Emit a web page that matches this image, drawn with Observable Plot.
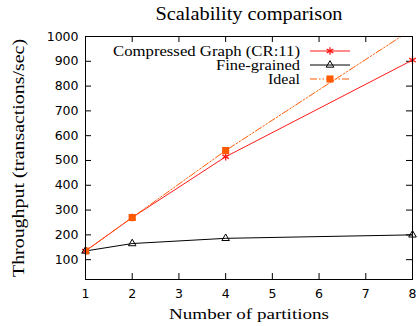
<!DOCTYPE html>
<html><head><meta charset="utf-8">
<script src="https://cdn.jsdelivr.net/npm/d3@7"></script>
<script src="https://cdn.jsdelivr.net/npm/@observablehq/plot@0.6"></script>
<style>body{margin:0;background:#fff} svg{display:block}</style>
</head><body><div id="chart"></div>
<script>
const partitions = [1, 2, 4, 8];
const compressed = [135, 270, 515, 905];
const fineGrained = [135, 165, 186, 200];
const ideal = [135, 270, 540, 1030];
const seriesNames = ["Compressed Graph (CR:11)", "Fine-grained", "Ideal"];
const seriesColors = ["#ff1a1a", "#000000", "#ff5a00"];
const seriesSymbols = ["asterisk", "triangle2", "square"];
const xTicks = [1, 2, 3, 4, 5, 6, 7, 8];
const yTicks = [100, 200, 300, 400, 500, 600, 700, 800, 900, 1000];
const titleText = "Scalability comparison";
const xLabel = "Number of partitions";
const yLabel = "Throughput (transactions/sec)";

// rendered widths of the (horizontally wide) serif texts, in px
const textWidths = new Map([
  [titleText, 187], [xLabel, 160], [yLabel, 238],
  [seriesNames[0], 187], [seriesNames[1], 84], [seriesNames[2], 32]
]);

const W = 418, H = 326;
const mL = 85, mR = 6, mT = 36, mB = 47;
const pw = W - mL - mR, ph = H - mT - mB;
const tick = 6;

const allValues = [compressed, fineGrained, ideal];
const rows = allValues.flatMap((vals, s) => partitions.map((p, i) => ({x: p, y: vals[i], s})));
const bySeries = s => rows.filter(d => d.s === s);

const serif = "'Liberation Serif', 'Times New Roman', serif";
const sans = "'DejaVu Sans', 'Liberation Sans', Arial, sans-serif";
const dash = "7,2,1.5,2,1.5,2";

const chart = Plot.plot({
  width: W, height: H,
  marginLeft: mL, marginRight: mR, marginTop: mT, marginBottom: mB,
  style: {fontFamily: sans, fontSize: "12.5px", color: "#000", background: "#fff"},
  x: {domain: [1, 8], ticks: xTicks},
  y: {domain: [20, 1000], ticks: yTicks},
  marks: [
    Plot.tickY(yTicks, {y: d => d, insetRight: pw - tick, stroke: "#000"}),
    Plot.tickY(yTicks, {y: d => d, insetLeft: pw - tick, stroke: "#000"}),
    Plot.tickX(xTicks, {x: d => d, insetTop: ph - tick, stroke: "#000"}),
    Plot.tickX(xTicks, {x: d => d, insetBottom: ph - tick, stroke: "#000"}),
    Plot.axisX({ticks: xTicks, tickSize: 0, tickPadding: 10, tickFormat: d => String(d), label: null, fontSize: 12.5}),
    Plot.axisY({ticks: yTicks, tickSize: 0, tickPadding: 7, tickFormat: d => String(d), label: null, fontSize: 12.5}),
    Plot.line(bySeries(0), {x: "x", y: "y", stroke: seriesColors[0], strokeWidth: 1}),
    Plot.line(bySeries(1), {x: "x", y: "y", stroke: seriesColors[1], strokeWidth: 1}),
    Plot.line(bySeries(2), {x: "x", y: "y", stroke: seriesColors[2], strokeWidth: 1, strokeDasharray: dash, clip: true}),
    Plot.dot(bySeries(0), {x: "x", y: "y", symbol: "asterisk", stroke: seriesColors[0], r: 3.6, strokeWidth: 1.3}),
    Plot.dot(bySeries(1), {x: "x", y: "y", symbol: "triangle2", stroke: seriesColors[1], r: 3.6, strokeWidth: 1}),
    Plot.dot(bySeries(2), {x: "x", y: "y", symbol: "square", fill: seriesColors[2], r: 4, clip: true}),
    Plot.frame({stroke: "#000", strokeWidth: 1}),
    Plot.text([titleText], {frameAnchor: "top", dy: -22.5, fontFamily: serif, fontSize: 18, lineAnchor: "middle", textAnchor: "middle"}),
    Plot.text([xLabel], {frameAnchor: "bottom", dy: 35, fontFamily: serif, fontSize: 15.5, lineAnchor: "middle", textAnchor: "middle"}),
    Plot.text([yLabel], {frameAnchor: "left", dx: -66.5, rotate: -90, fontFamily: serif, fontSize: 16.5, lineAnchor: "middle", textAnchor: "middle"})
  ]
});
document.getElementById("chart").appendChild(chart);

const svg = d3.select(chart);

// Legend (gnuplot-style key)
const leg = svg.append("g").attr("transform", `translate(${mL},${mT})`);
const textRight = 215, lineX1 = 225, lineX2 = 265, rowY0 = 15, rowStep = 14;
seriesNames.forEach((name, i) => {
  const y = rowY0 + i * rowStep;
  leg.append("text").attr("x", textRight).attr("y", y).attr("dy", "0.32em")
    .attr("text-anchor", "end").attr("font-family", serif).attr("font-size", 15).text(name);
  const ln = leg.append("line").attr("x1", lineX1).attr("x2", lineX2).attr("y1", y).attr("y2", y)
    .attr("stroke", seriesColors[i]).attr("stroke-width", 1);
  if (i === 2) ln.attr("stroke-dasharray", dash);
  const mx = (lineX1 + lineX2) / 2;
  const symType = {asterisk: d3.symbolAsterisk, triangle2: d3.symbolTriangle2, square: d3.symbolSquare}[seriesSymbols[i]];
  const size = i === 2 ? Math.PI * 16 : Math.PI * 3.6 * 3.6;
  const p = leg.append("path").attr("transform", `translate(${mx},${y})`).attr("d", d3.symbol(symType, size)());
  if (seriesSymbols[i] === "square") p.attr("fill", seriesColors[i]);
  else p.attr("fill", "none").attr("stroke", seriesColors[i]).attr("stroke-width", i === 0 ? 1.3 : 1);
});

// stretch serif texts to the reference's rendered widths
svg.selectAll("text").each(function () {
  const w = textWidths.get(this.textContent);
  if (w) d3.select(this).attr("textLength", w).attr("lengthAdjust", "spacingAndGlyphs");
});
</script>
</body></html>
